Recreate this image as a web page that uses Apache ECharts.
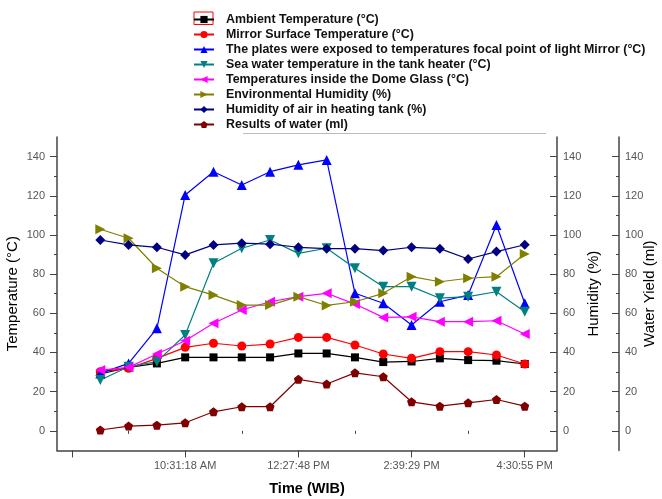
<!DOCTYPE html>
<html>
<head>
<meta charset="utf-8">
<script src="https://cdn.jsdelivr.net/npm/echarts@6/dist/echarts.min.js"></script>
<style>
  html, body { margin: 0; padding: 0; background: #fff; }
  #chart { width: 662px; height: 499px; }
</style>
</head>
<body>
<div id="chart"></div>
<script>
// sample index 0..15 along the time axis
var timeLabels = ['10:31:18 AM', '12:27:48 PM', '2:39:29 PM', '4:30:55 PM'];
var labelAt = [3, 7, 11, 15];
var majorXTicks = [-1, 3, 7, 11, 15];
var minorXTicks = [1, 5, 9, 13];
var yLabels = [0, 20, 40, 60, 80, 100, 120, 140];
var yMinor = [10, 30, 50, 70, 90, 110, 130];

var ambient = [29, 32.4, 34.4, 37.5, 37.5, 37.5, 37.5, 39.5, 39.5, 37.5, 35.1, 35.4, 37.0, 36.1, 35.8, 34.1];
var mirror = [30.2, 31.9, 37.0, 42.6, 44.7, 43.3, 44.3, 47.7, 47.7, 43.8, 39.2, 37.0, 40.4, 40.4, 38.7, 34.1];
var plates = [29.3, 34.4, 52.3, 120.4, 132.3, 125.5, 132.3, 135.8, 138.3, 70.2, 65.1, 54.0, 65.9, 69.3, 105.1, 65.1];
var seaWater = [25.9, 32.7, 35.3, 48.9, 85.5, 93.2, 97.4, 90.6, 93.2, 83.0, 73.6, 73.6, 67.7, 68.5, 71.0, 60.8];
var dome = [31.0, 32.4, 39.2, 46.0, 54.9, 61.7, 65.9, 68.5, 70.2, 64.7, 57.9, 58.2, 55.7, 55.7, 56.2, 49.4];
var envHumidity = [102.9, 98.3, 83.0, 73.6, 69.3, 64.2, 64.2, 68.5, 64.0, 65.9, 70.2, 78.7, 76.1, 77.9, 78.7, 90.3];
var tankHumidity = [97.4, 94.9, 93.7, 89.8, 94.9, 95.8, 95.3, 93.7, 93.0, 93.0, 92.0, 93.7, 93.0, 87.7, 91.5, 95.0];
var waterResult = [0.4, 2.4, 2.9, 4.1, 9.7, 12.3, 12.3, 26.3, 23.9, 29.6, 27.6, 14.8, 12.6, 14.3, 16.0, 12.6];

var font = 'Liberation Sans, Arial, sans-serif';
var axisColor = '#444';
var labelColor = '#555';
var pentagon = 'path://M0,-10 L9.5,-3.1 L5.9,8.1 L-5.9,8.1 L-9.5,-3.1 Z';

function pts(arr) {
  return arr.map(function (v, i) { return [i, v]; });
}

function line(name, arr, color, symbol, size, rotate, yIdx) {
  return {
    name: name,
    type: 'line',
    yAxisIndex: yIdx,
    data: pts(arr),
    symbol: symbol,
    symbolSize: size,
    symbolRotate: rotate,
    showAllSymbol: true,
    lineStyle: { color: color, width: 1.2 },
    itemStyle: { color: color },
    emphasis: { disabled: true },
    z: 3
  };
}

function yAxis(pos, offset, name, nameGap, inside, minorOnly) {
  var ax = {
    type: 'value',
    position: pos,
    offset: offset,
    min: -10,
    max: 150,
    splitLine: { show: false },
    axisLine: { show: !minorOnly, onZero: false, lineStyle: { color: axisColor, width: 1.5 } },
    axisTick: {
      show: true,
      inside: inside,
      customValues: minorOnly ? yMinor : yLabels,
      length: minorOnly ? 3 : 7,
      lineStyle: { color: axisColor, width: 1 }
    },
    axisLabel: {
      show: !minorOnly,
      customValues: yLabels,
      color: labelColor,
      fontSize: 11,
      fontFamily: font,
      margin: pos === 'left' ? 12 : 6
    }
  };
  if (!minorOnly) {
    ax.name = name;
    ax.nameLocation = 'middle';
    ax.nameRotate = 90;
    ax.nameGap = nameGap;
    ax.nameMoveOverlap = false;
    ax.nameTextStyle = { color: '#000', fontSize: 15, fontFamily: font };
  }
  return ax;
}

var chart = echarts.init(document.getElementById('chart'));
chart.setOption({
  animation: false,
  backgroundColor: '#fff',
  grid: { left: 57, right: 105, top: 137, height: 313.4, outerBoundsMode: 'none', containLabel: false },
  legend: {
    orient: 'vertical',
    left: 188,
    top: 8,
    itemWidth: 20,
    itemHeight: 9,
    itemGap: 2,
    textStyle: { color: '#111', fontSize: 12.4, fontWeight: 'bold', lineHeight: 13, fontFamily: font, padding: [0, 0, 0, 7] },
    selectedMode: false
  },
  xAxis: [{
    type: 'value',
    position: 'bottom',
    min: -1.53,
    max: 16.14,
    splitLine: { show: false },
    axisLine: { onZero: false, lineStyle: { color: axisColor, width: 1.5 } },
    axisTick: { customValues: majorXTicks, length: 7, lineStyle: { color: axisColor } },
    axisLabel: {
      customValues: labelAt,
      formatter: function (v) { return timeLabels[labelAt.indexOf(v)]; },
      color: labelColor,
      fontSize: 11,
      fontFamily: font,
      margin: 10
    },
    name: 'Time (WIB)',
    nameLocation: 'middle',
    nameGap: 31,
    nameMoveOverlap: false,
    nameTextStyle: { color: '#000', fontSize: 14.5, fontWeight: 'bold', fontFamily: font }
  }, {
    type: 'value',
    position: 'bottom',
    min: -1.53,
    max: 16.14,
    splitLine: { show: false },
    axisLine: { show: false },
    axisTick: { customValues: minorXTicks, length: 3, lineStyle: { color: axisColor } },
    axisLabel: { show: false }
  }],
  yAxis: [
    yAxis('left', 0, 'Temperature (°C)', 36.5, false, false),
    yAxis('left', 0, '', 0, false, true),
    yAxis('right', 0, 'Humidity (%)', 29, true, false),
    yAxis('right', 0, '', 0, true, true),
    yAxis('right', 62, 'Water Yield (ml)', 23, true, false),
    yAxis('right', 62, '', 0, true, true)
  ],
  series: [
    line('Ambient Temperature (°C)', ambient, '#000000', 'rect', 8, 0, 0),
    line('Mirror Surface Temperature (°C)', mirror, '#ff0000', 'circle', 9, 0, 0),
    line('The plates were exposed to temperatures focal point of light Mirror (°C)', plates, '#0000ff', 'triangle', 10, 0, 0),
    line('Sea water temperature in the tank heater (°C)', seaWater, '#008080', 'triangle', 10, 180, 0),
    line('Temperatures inside the Dome Glass (°C)', dome, '#ff00ff', 'triangle', 10, 90, 0),
    line('Environmental Humidity (%)', envHumidity, '#808000', 'triangle', 10, -90, 2),
    line('Humidity of air in heating tank (%)', tankHumidity, '#000080', 'diamond', 10, 0, 2),
    line('Results of water (ml)', waterResult, '#800000', pentagon, 9, 0, 4)
  ],
  graphic: [
    { type: 'rect', shape: { x: 194, y: 12, width: 19, height: 12.5 }, style: { fill: 'none', stroke: '#ff0000', lineWidth: 1 } },
    { type: 'line', shape: { x1: 243, y1: 133.5, x2: 546, y2: 133.5 }, style: { stroke: '#bbbbbb', lineWidth: 1 } }
  ]
});
</script>
</body>
</html>
